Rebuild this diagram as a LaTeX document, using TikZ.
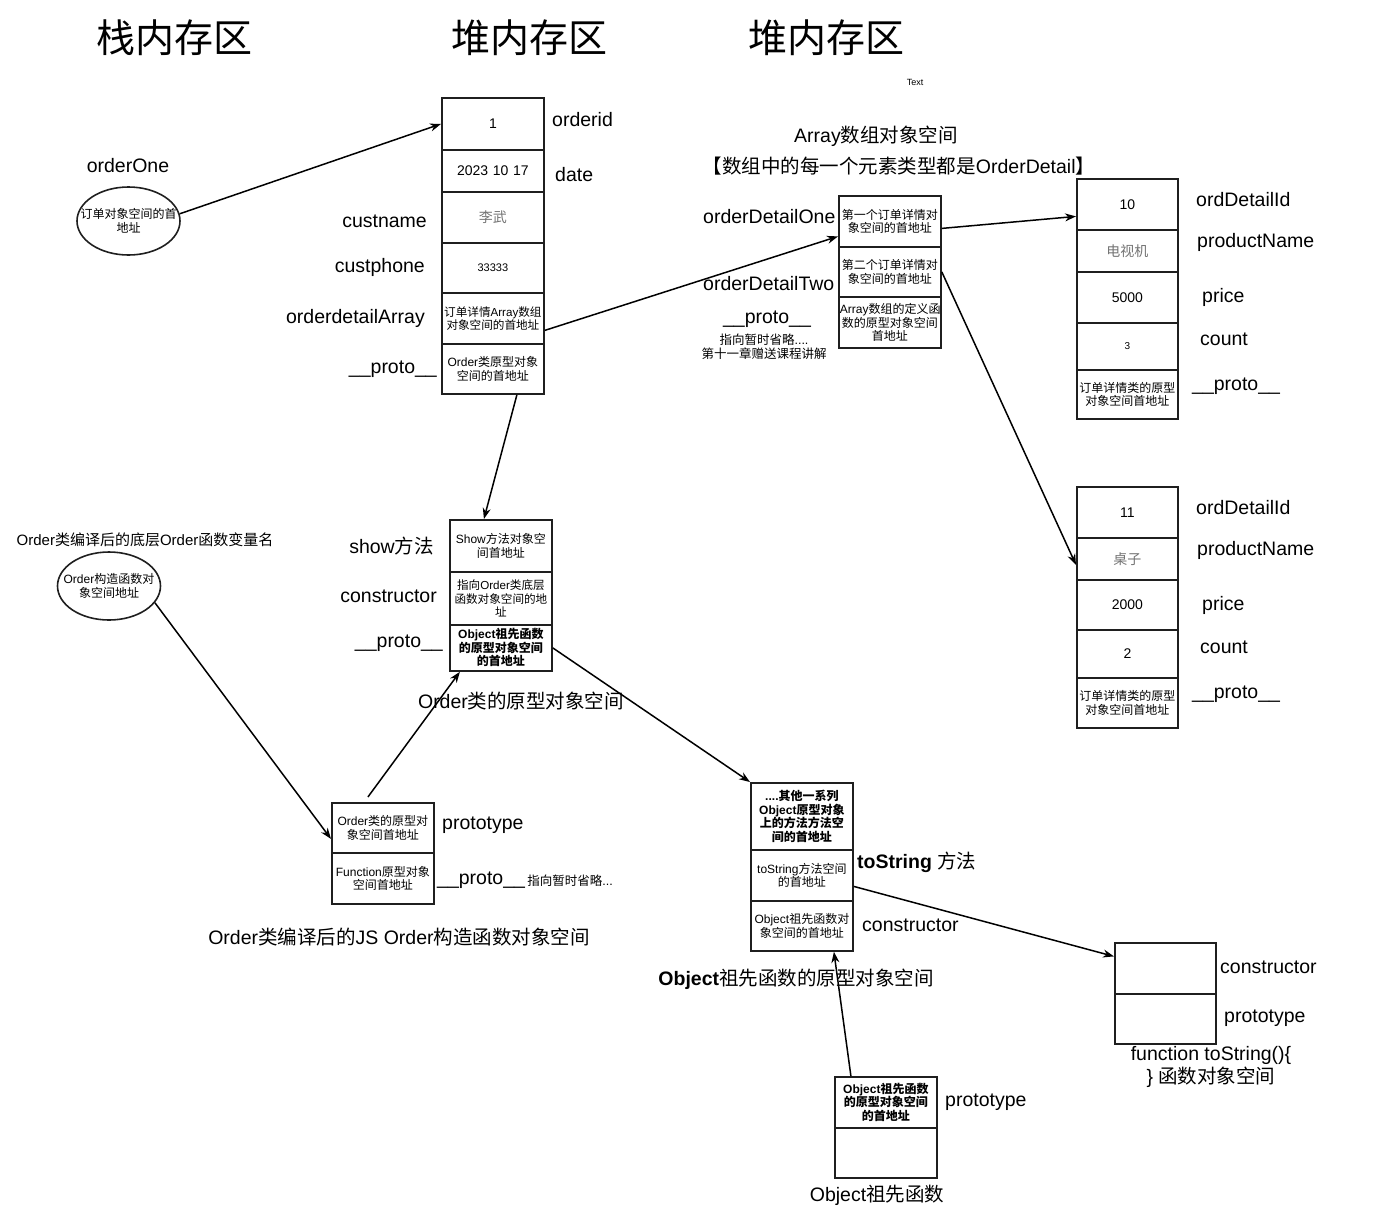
\documentclass[tikz,border=0pt]{standalone}
\usepackage{fontspec}
\setmainfont{Liberation Sans}
\newfontfamily\cjk{Noto Sans CJK SC}
\newfontfamily\lat{Liberation Sans}
\usetikzlibrary{arrows.meta,calc,shapes.geometric}
\XeTeXinterchartokenstate=1
\newXeTeXintercharclass\cjkclass
\newcount\cjkcnt
\def\setcjkrange#1#2{\cjkcnt=#1\relax\loop\XeTeXcharclass\cjkcnt=\cjkclass\relax\ifnum\cjkcnt<#2\relax\advance\cjkcnt by 1\relax\repeat}
\setcjkrange{"3000}{"303F}
\setcjkrange{"4E00}{"9FFF}
\setcjkrange{"FF00}{"FFEF}
\XeTeXinterchartoks 0 \cjkclass = {\cjk}
\XeTeXinterchartoks 4095 \cjkclass = {\cjk}
\XeTeXinterchartoks \cjkclass 0 = {\lat}
\XeTeXinterchartoks \cjkclass 4095 = {\lat}
\begin{document}
\begin{tikzpicture}[x=1pt,y=-1pt,
 box/.style={draw=black!88, line width=1.8pt, text width=100pt, inner sep=1pt, align=center, anchor=north west, font=\fontsize{12}{13.5}\selectfont},
 boxn/.style={box, text width=99pt},
 lbl/.style={inner sep=0, font=\fontsize{19.5}{23}\selectfont},
 lblw/.style={lbl, anchor=west},
 lble/.style={lbl, anchor=east},
 note/.style={inner sep=0, align=center, font=\fontsize{12.5}{14}\selectfont},
 arr/.style={-{Stealth[length=11pt,width=8pt]}, line width=1.5pt},
 oval/.style={ellipse, draw=black!88, line width=1.6pt, minimum width=103pt, minimum height=68pt, inner sep=0},
 ovaltext/.style={inner sep=0, align=center, font=\fontsize{12}{13.5}\selectfont},
 title/.style={inner sep=0, font=\fontsize{39}{44}\selectfont},
 big/.style={font=\fontsize{14}{16}\selectfont},
 grey/.style={text=black!55}
]
\useasboundingbox (0,0) rectangle (1386,1208);

% titles
\node[title] (ti1) at (174,38) {栈内存区};
\node[title] (ti2) at (529,38) {堆内存区};
\node[title] (ti3) at (826,38) {堆内存区};
\node[inner sep=0, font=\fontsize{9}{10}\selectfont] (txt) at (915,82) {Text};

% stack: orderOne
\node[lbl] (lone) at (128,166) {orderOne};
\node[oval] (e1) at (128.5,221) {};
\node[ovaltext] (e1t) at (e1.center) {订单对象空间的首\\地址};

% order object
\node[box,big,minimum height=52pt] (m1) at (441,97) {1};
\node[box,big,minimum height=42pt] (m2) at (441,149) {2023 10 17};
\node[box,big,grey,minimum height=51pt] (m3) at (441,191) {李武};
\node[box,minimum height=50pt,font=\fontsize{11}{12}\selectfont] (m4) at (441,242) {33333};
\node[box,minimum height=51pt,font=\fontsize{11.6}{13.5}\selectfont] (m5) at (441,292) {订单详情Array数组\\对象空间的首地址};
\node[box,minimum height=50pt] (m6) at (441,343) {Order类原型对象\\空间的首地址};
\node[lblw] (lm1) at (552,120) {orderid};
\node[lblw] (lm2) at (555,175) {date};
\node[lble] (lm3) at (427,221) {custname};
\node[lble] (lm4) at (425,267) {custphone};
\node[lble] (lm5) at (425,318) {orderdetailArray};
\node[lble] (lm6) at (437,369) {\_\_proto\_\_};

% array object
\node[lbl] (la0) at (876,136) {Array数组对象空间};
\node[lbl] (la00) at (899,166) {【数组中的每一个元素类型都是OrderDetail】};
\node[box,minimum height=51pt] (a1) at (838,195) {第一个订单详情对\\象空间的首地址};
\node[box,minimum height=50pt] (a2) at (838,246) {第二个订单详情对\\象空间的首地址};
\node[box,minimum height=51pt] (a3) at (838,296) {Array数组的定义函\\数的原型对象空间\\首地址};
\node[lblw] (la1) at (703,217) {orderDetailOne};
\node[lblw] (la2) at (703,284) {orderDetailTwo};
\node[lbl] (la3) at (767,319) {\_\_proto\_\_};
\node[note] (la4) at (764,347) {指向暂时省略....\\第十一章赠送课程讲解};

% order detail 1
\node[boxn,big,minimum height=51pt] (d11) at (1076,178) {10};
\node[boxn,big,grey,minimum height=42pt] (d12) at (1076,229) {电视机};
\node[boxn,big,minimum height=51pt] (d13) at (1076,271) {5000};
\node[boxn,minimum height=47pt,font=\fontsize{10}{12}\selectfont] (d14) at (1076,322) {3};
\node[boxn,minimum height=49pt] (d15) at (1076,369) {订单详情类的原型\\对象空间首地址};
\node[lblw] (ld11) at (1196,200) {ordDetailId};
\node[lblw] (ld12) at (1197,242) {productName};
\node[lblw] (ld13) at (1202,297) {price};
\node[lblw] (ld14) at (1200,339) {count};
\node[lblw] (ld15) at (1192,386) {\_\_proto\_\_};

% order detail 2
\node[boxn,big,minimum height=51pt] (d21) at (1076,486) {11};
\node[boxn,big,grey,minimum height=42pt] (d22) at (1076,537) {桌子};
\node[boxn,big,minimum height=50pt] (d23) at (1076,579) {2000};
\node[boxn,big,minimum height=48pt] (d24) at (1076,629) {2};
\node[boxn,minimum height=50pt] (d25) at (1076,677) {订单详情类的原型\\对象空间首地址};
\node[lblw] (ld21) at (1196,508) {ordDetailId};
\node[lblw] (ld22) at (1197,550) {productName};
\node[lblw] (ld23) at (1202,605) {price};
\node[lblw] (ld24) at (1200,647) {count};
\node[lblw] (ld25) at (1192,694) {\_\_proto\_\_};

% Order prototype object
\node[box,minimum height=52pt] (p1) at (449,519) {Show方法对象空\\间首地址};
\node[box,minimum height=53pt,font=\fontsize{11.6}{13.5}\selectfont] (p2) at (449,571) {指向Order类底层\\函数对象空间的地\\址};
\node[box,minimum height=46pt,font=\bfseries\fontsize{12}{13.5}\selectfont] (p3) at (449,624) {Object祖先函数\\的原型对象空间\\的首地址};
\node[lble] (lp1) at (434,546) {show方法};
\node[lble] (lp2) at (437,596) {constructor};
\node[lble] (lp3) at (443,643) {\_\_proto\_\_};
\node[lbl] (lp4) at (521,701) {Order类的原型对象空间};

% Order constructor variable
\node[inner sep=0, font=\fontsize{15}{17}\selectfont] (le2) at (145,540) {Order类编译后的底层Order函数变量名};
\node[oval] (e2) at (109,586) {};
\node[ovaltext] (e2t) at (e2.center) {Order构造函数对\\象空间地址};

% Order function object
\node[box,minimum height=50pt] (f1) at (331,802) {Order类的原型对\\象空间首地址};
\node[box,minimum height=51pt] (f2) at (331,852) {Function原型对象\\空间首地址};
\node[lblw] (lf1) at (442,825) {prototype};
\node[lblw] (lf2) at (437,880) {\_\_proto\_\_};
\node[inner sep=0, anchor=west, font=\fontsize{12.5}{14}\selectfont] (lf3) at ($(lf2.east)+(2,1)$) {指向暂时省略...};
\node[lbl] (lf4) at (399,937) {Order类编译后的JS Order构造函数对象空间};

% Object prototype object
\node[box,minimum height=67pt,font=\bfseries\fontsize{12}{13.5}\selectfont] (o1) at (750,782) {....其他一系列\\Object原型对象\\上的方法方法空\\间的首地址};
\node[box,minimum height=51pt] (o2) at (750,849) {toString方法空间\\的首地址};
\node[box,minimum height=50pt] (o3) at (750,900) {Object祖先函数对\\象空间的首地址};
\node[lblw] (lo2) at (857,862) {{\bfseries toString} 方法};
\node[lblw] (lo3) at (862,925) {constructor};
\node[lbl] (lo4) at (796,979) {{\bfseries Object}祖先函数的原型对象空间};

% toString function object
\node[boxn,minimum height=51pt] (t1b) at (1114,942) {};
\node[boxn,minimum height=50pt] (t2b) at (1114,993) {};
\node[lblw] (lt1) at (1220,967) {constructor};
\node[lblw] (lt2) at (1224,1018) {prototype};
\node[lbl, align=center] (lt3) at (1211,1067) {function toString()\{\\\} 函数对象空间};

% Object function object
\node[box,minimum height=51pt,font=\bfseries\fontsize{12}{13.5}\selectfont] (of1) at (834,1076) {Object祖先函数\\的原型对象空间\\的首地址};
\node[box,minimum height=50pt] (of2) at (834,1127) {};
\node[lblw] (lof1) at (945,1102) {prototype};
\node[lbl] (lof3) at (877,1195) {Object祖先函数};

% connectors
\draw[arr] (e1.8) -- (m1.west);
\draw[arr] (m5.-13) -- ($(a1.west)+(0,15)$);
\draw[arr] ($(a1.east)+(0,7)$) -- ($(d11.west)+(0,12)$);
\draw[arr] (a2.east) -- ($(d22.west)+(0,6)$);
\draw[arr] ($(m6.south)+(24,0)$) -- ($(p1.north)+(-17,0)$);
\draw[arr] (e2.-20) -- ($(f1.west)+(0,11)$);
\draw[arr] ($(f1.north)+(-15,-5)$) -- ($(p3.south)+(-41,0)$);
\draw[arr] (p3.east) -- (o1.north west);
\draw[arr] ($(o2.east)+(0,11)$) -- ($(t1b.west)+(0,-12)$);
\draw[arr] ($(of1.north)+(-35,0)$) -- ($(o3.south)+(32,0)$);
\end{tikzpicture}
\end{document}
